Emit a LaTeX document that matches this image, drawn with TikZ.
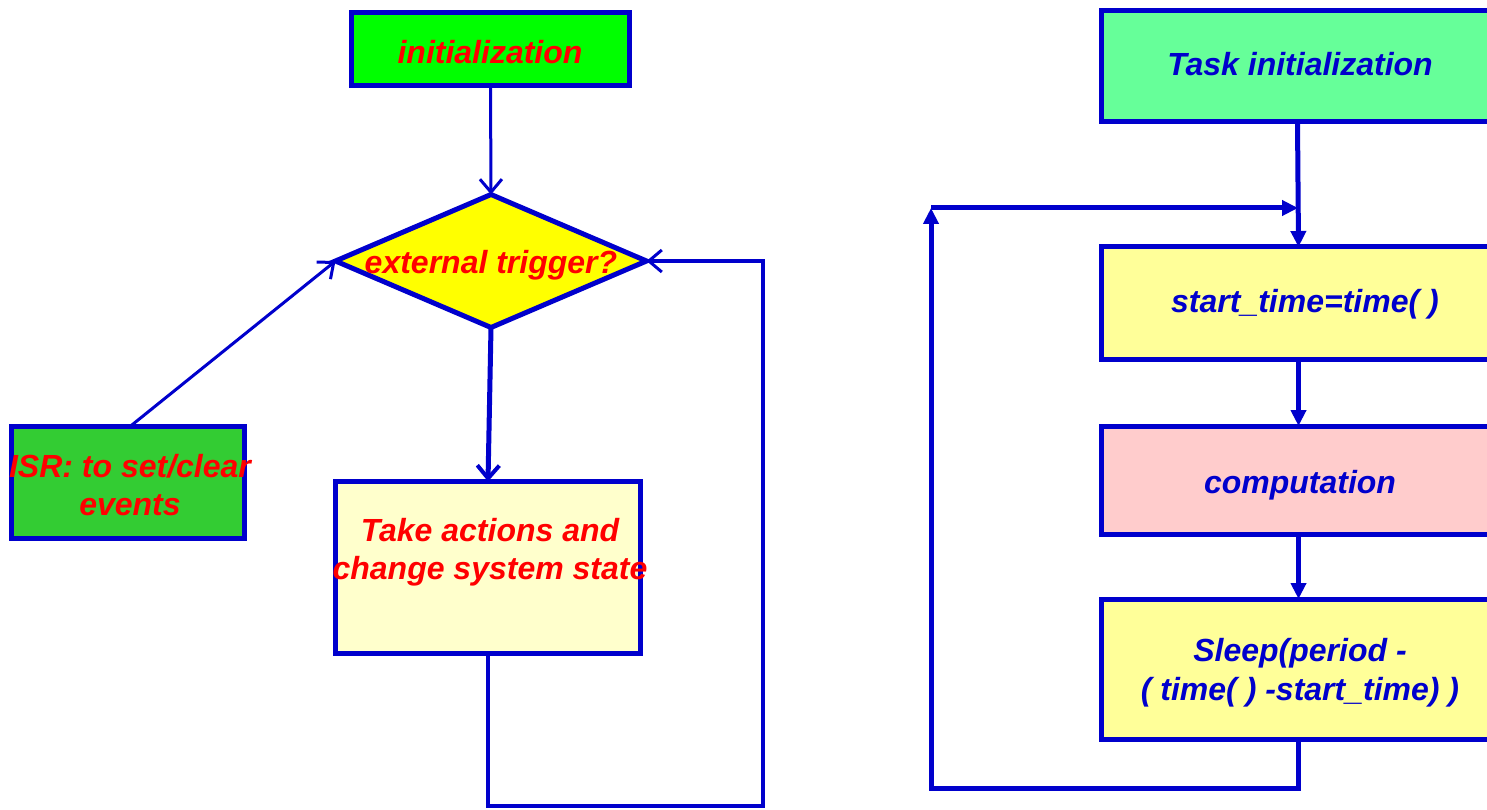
\documentclass[tikz,border=0pt]{standalone}
\usepackage{fontspec}
\setmainfont{Liberation Sans}
\usetikzlibrary{shapes.geometric,arrows.meta}
\definecolor{bblue}{RGB}{0,0,204}
\definecolor{tred}{RGB}{255,0,0}
\definecolor{ginit}{RGB}{0,255,0}
\definecolor{gisr}{RGB}{51,204,51}
\definecolor{ydiam}{RGB}{255,255,0}
\definecolor{yact}{RGB}{255,255,204}
\definecolor{gtask}{RGB}{102,255,153}
\definecolor{ybox}{RGB}{255,255,153}
\definecolor{pcomp}{RGB}{255,204,204}
\tikzset{
  boxnode/.style={draw=bblue, line width=5pt, inner sep=0pt, outer sep=0pt, rectangle},
  redtxt/.style={text=tred, font=\fontsize{32}{38}\selectfont\bfseries\itshape, align=center, inner sep=0pt},
  bluetxt/.style={text=bblue, font=\fontsize{32}{39}\selectfont\bfseries\itshape, align=center, inner sep=0pt},
  vtip/.style={-{Straight Barb[length=13pt,width=22pt,line width=3pt]}},
  thinarrow/.style={draw=bblue, line width=3pt, vtip},
  thickarrow/.style={draw=bblue, line width=5pt, -{Triangle[length=16pt,width=15pt]}},
  loopline/.style={draw=bblue, line width=4pt},
}
\begin{document}
\begin{tikzpicture}[x=1pt,y=-1pt]
\useasboundingbox (0,0) rectangle (1487,810);
\clip (0,0) rectangle (1487,810);
\fill[white] (0,0) rectangle (1487,810);

% ---- left flowchart ----
\node[boxnode, fill=ginit, minimum width=278pt, minimum height=73pt] (init) at (490.5,49.5) {};
\node[redtxt] (initT) at (490,52) {initialization};

\node[draw=bblue, fill=ydiam, line width=5pt, diamond, inner sep=0pt, outer sep=0pt,
      minimum width=311pt, minimum height=133pt, aspect=2.34] (diam) at (491,261) {};
\node[redtxt] (diamT) at (491,265) {external trigger?};

\node[boxnode, fill=yact, minimum width=305pt, minimum height=172pt] (act) at (488,567.5) {};
\node[redtxt] (actT) at (490,552) {Take actions and\\change system state};

\node[boxnode, fill=gisr, minimum width=233pt, minimum height=112pt] (isr) at (128,482.5) {};
\node[redtxt] (isrT) at (130,485) {ISR: to set/clear\\events};

\draw[thinarrow] (init.south) -- (diam.north);
\draw[draw=bblue, line width=5pt, -{Straight Barb[length=13pt,width=22pt,line width=4pt]}] (diam.south) -- (act.north);
\coordinate (lc) at (763,806);
\draw[loopline, vtip] (act.south) |- (lc) |- (diam.east);
\draw[thinarrow] ([xshift=2pt]isr.north) -- (diam.west);

% ---- right flowchart ----
\node[boxnode, fill=gtask, minimum width=399pt, minimum height=111pt] (tinit) at (1300.5,66.5) {};
\node[bluetxt] (tinitT) at (1300,64) {Task initialization};

\node[boxnode, fill=ybox, minimum width=399pt, minimum height=112pt] (st) at (1300.5,303) {};
\node[bluetxt] (stT) at (1305,304) {start\_time=time( )};

\node[boxnode, fill=pcomp, minimum width=399pt, minimum height=108pt] (comp) at (1300.5,480) {};
\node[bluetxt] (compT) at (1300,485) {computation};

\node[boxnode, fill=ybox, minimum width=399pt, minimum height=140pt] (sleep) at (1300.5,669) {};
\node[bluetxt] (sleepT) at (1300,673) {Sleep(period -\\( time( ) -start\_time) )};

\draw[thickarrow] ([xshift=-3pt]tinit.south) -- ([xshift=-2pt]st.north);
\draw[thickarrow] ([xshift=-2pt]st.south) -- ([xshift=-2pt]comp.north);
\draw[thickarrow] ([xshift=-2pt]comp.south) -- ([xshift=-2pt]sleep.north);

\coordinate (rb) at (931,788);
\coordinate (rt) at (931,208);
\coordinate (rin) at (1298,208);
\draw[thickarrow] ([xshift=-2pt]sleep.south) |- (rb) -- (rt);
\draw[thickarrow] (rt) -- (rin);
\end{tikzpicture}
\end{document}
